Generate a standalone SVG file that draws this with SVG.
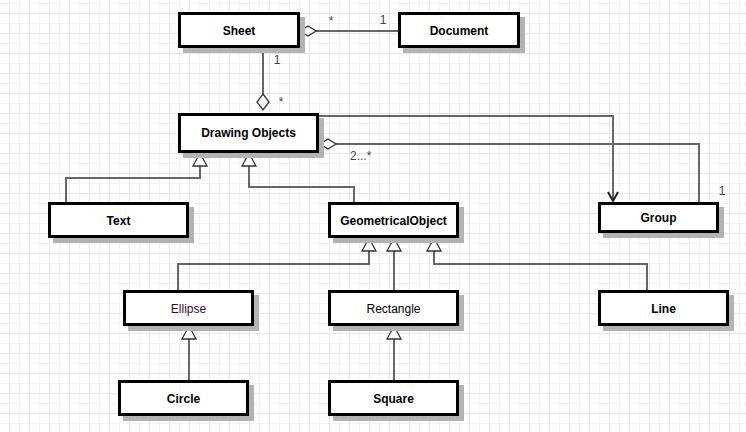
<svg xmlns="http://www.w3.org/2000/svg" width="746" height="432" viewBox="0 0 746 432">
<style>
.shadow{fill:#b3b3b3}
.box{fill:#fff;stroke:#000;stroke-width:3}
.lbl{font-family:"Liberation Sans",Arial,sans-serif;font-size:12px;font-weight:bold;fill:#000;text-anchor:middle}
.reg{font-weight:normal}
.conn{fill:none;stroke:#666;stroke-width:2}
.tri{fill:#fff;stroke:#333;stroke-width:1.3;stroke-linejoin:miter}
.dia{fill:#fff;stroke:#333;stroke-width:1.3}
.arr{fill:none;stroke:#222;stroke-width:2}
.mult{font-family:"Liberation Sans",Arial,sans-serif;font-size:12px;fill:#444}
</style>
<defs>
<pattern id="grid" x="9" y="13" width="20" height="20" patternUnits="userSpaceOnUse">
<path d="M10.5,0V20M0,10.5H20" stroke="#f2f0fb" stroke-width="1" fill="none"/>
<path d="M0.5,0V20M0,0.5H20" stroke="#e8e4f7" stroke-width="1" fill="none"/>
</pattern>
</defs>
<rect width="746" height="432" fill="#fff"/>
<rect width="746" height="432" fill="url(#grid)"/>

<g id="connectors">
<path class="conn" d="M316,31H398"/>
<polygon class="dia" points="300,31 308,26 316,31 308,36"/>
<path class="conn" d="M263,48V94"/>
<polygon class="dia" points="263,94 269,102 263,110 257,102"/>
<path class="conn" d="M319,116H613V201"/>
<path class="arr" d="M608,192L613,201L618,192"/>
<path class="conn" d="M336,144H699V202"/>
<polygon class="dia" points="320,144 328,139 336,144 328,149"/>
<path class="conn" d="M66,203V178H200V166"/>
<polygon class="tri" points="200,153 207,166 193,166"/>
<path class="conn" d="M354,203V187H249V166"/>
<polygon class="tri" points="249,153 256,166 242,166"/>
<path class="conn" d="M178,291V264H369V251"/>
<polygon class="tri" points="369,238 376,251 362,251"/>
<path class="conn" d="M394,291V251"/>
<polygon class="tri" points="394,238 401,251 387,251"/>
<path class="conn" d="M647,291V264H434V251"/>
<polygon class="tri" points="434,238 441,251 427,251"/>
<path class="conn" d="M189,381V339"/>
<polygon class="tri" points="189,326 196,339 182,339"/>
<path class="conn" d="M394,381V339"/>
<polygon class="tri" points="394,326 401,339 387,339"/>
<text class="mult" x="331" y="25" text-anchor="middle">*</text>
<text class="mult" x="383" y="24" text-anchor="middle">1</text>
<text class="mult" x="277" y="64" text-anchor="middle">1</text>
<text class="mult" x="281" y="106" text-anchor="middle">*</text>
<text class="mult" x="350" y="160">2...*</text>
<text class="mult" x="722" y="195" text-anchor="middle">1</text>
</g>

<g id="sheet"><rect class="shadow" x="183" y="17" width="122" height="36"/><rect class="box" x="179.5" y="13.5" width="119" height="33"/><text class="lbl" x="239" y="34.5">Sheet</text></g>
<g id="document"><rect class="shadow" x="403" y="17" width="122" height="36"/><rect class="box" x="399.5" y="13.5" width="119" height="33"/><text class="lbl" x="459" y="34.5">Document</text></g>
<g id="drawing-objects"><rect class="shadow" x="183" y="118" width="141" height="40"/><rect class="box" x="179.5" y="114.5" width="138" height="37"/><text class="lbl" x="248.5" y="137">Drawing Objects</text></g>
<g id="text"><rect class="shadow" x="53" y="207" width="141" height="36"/><rect class="box" x="49.5" y="203.5" width="138" height="33"/><text class="lbl" x="118.5" y="224.5">Text</text></g>
<g id="geometrical-object"><rect class="shadow" x="333" y="207" width="131" height="36"/><rect class="box" x="329.5" y="203.5" width="128" height="33"/><text class="lbl" x="393.5" y="224.5">GeometricalObject</text></g>
<g id="group"><rect class="shadow" x="603" y="207" width="121" height="31"/><rect class="box" x="599.5" y="203.5" width="118" height="28"/><text class="lbl" x="658.5" y="222">Group</text></g>
<g id="ellipse"><rect class="shadow" x="128" y="295" width="131" height="36"/><rect class="box" x="124.5" y="291.5" width="128" height="33"/><text class="lbl reg" x="188.5" y="312.5" style="fill:#3a0a30">Ellipse</text></g>
<g id="rectangle"><rect class="shadow" x="333" y="295" width="131" height="36"/><rect class="box" x="329.5" y="291.5" width="128" height="33"/><text class="lbl reg" x="393.5" y="312.5">Rectangle</text></g>
<g id="line"><rect class="shadow" x="603" y="295" width="131" height="36"/><rect class="box" x="599.5" y="291.5" width="128" height="33"/><text class="lbl" x="663.5" y="312.5">Line</text></g>
<g id="circle"><rect class="shadow" x="123" y="385" width="131" height="36"/><rect class="box" x="119.5" y="381.5" width="128" height="33"/><text class="lbl" x="183.5" y="402.5">Circle</text></g>
<g id="square"><rect class="shadow" x="333" y="385" width="131" height="36"/><rect class="box" x="329.5" y="381.5" width="128" height="33"/><text class="lbl" x="393.5" y="402.5">Square</text></g>
</svg>
